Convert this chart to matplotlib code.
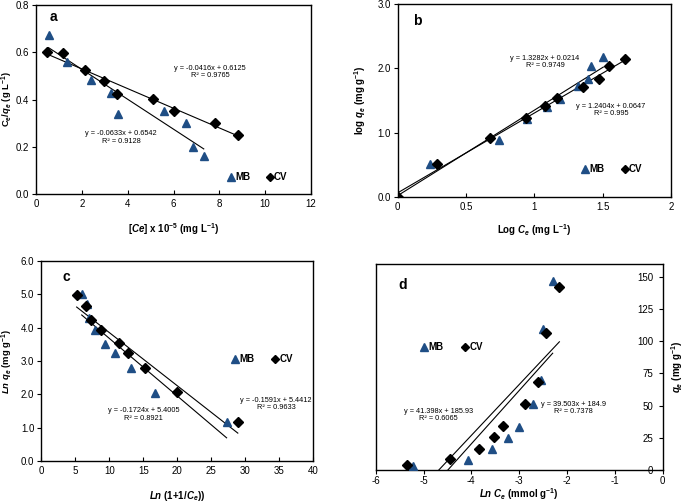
import numpy as np
import matplotlib.pyplot as plt

plt.rcParams['font.family'] = ['Liberation Sans', 'DejaVu Sans']
plt.rcParams['mathtext.fontset'] = 'custom'
plt.rcParams['mathtext.rm'] = 'Liberation Sans:bold'
plt.rcParams['mathtext.it'] = 'Liberation Sans:italic:bold'
plt.rcParams['mathtext.bf'] = 'Liberation Sans:bold'
plt.rcParams['axes.unicode_minus'] = False

# ---- panel a (Langmuir) ----
a_mb_x = [0.55, 1.35, 2.41, 3.29, 3.59, 5.57, 6.53, 6.84, 7.32]
a_mb_y = [0.675, 0.558, 0.482, 0.429, 0.339, 0.353, 0.302, 0.201, 0.159]
a_cv_x = [0.48, 1.16, 2.14, 2.95, 3.53, 5.09, 6.02, 7.81, 8.83]
a_cv_y = [0.599, 0.595, 0.525, 0.478, 0.425, 0.404, 0.353, 0.300, 0.249]
a_fit_mb = (-0.0633, 0.6542)
a_fit_cv = (-0.0416, 0.6125)

# ---- panel b (Freundlich) ----
b_mb_x = [0.0, 0.237, 0.744, 0.949, 1.095, 1.19, 1.32, 1.39, 1.415, 1.505]
b_mb_y = [0.0, 0.519, 0.893, 1.21, 1.40, 1.52, 1.73, 1.84, 2.03, 2.17]
b_cv_x = [0.0, 0.285, 0.678, 0.939, 1.08, 1.163, 1.359, 1.473, 1.544, 1.666]
b_cv_y = [0.0, 0.519, 0.919, 1.225, 1.41, 1.536, 1.71, 1.84, 2.03, 2.15]
b_fit_mb = (1.3282, 0.0214)
b_fit_cv = (1.2404, 0.0647)

# ---- panel c ----
c_mb_x = [5.94, 6.77, 7.06, 7.85, 9.41, 10.84, 13.15, 16.72, 27.25]
c_mb_y = [5.0, 4.70, 4.28, 3.93, 3.51, 3.23, 2.80, 2.03, 1.19]
c_cv_x = [5.2, 6.53, 7.35, 8.73, 11.47, 12.75, 15.2, 20.0, 28.9]
c_cv_y = [4.97, 4.65, 4.23, 3.93, 3.55, 3.23, 2.80, 2.08, 1.17]
c_fit_mb = (-0.1724, 5.4005)
c_fit_cv = (-0.1591, 5.4412)

# ---- panel d ----
d_mb_x = [-5.21, -4.06, -3.57, -3.24, -3.0, -2.72, -2.55, -2.51, -2.30]
d_mb_y = [3.1, 7.7, 16.2, 25.0, 33.5, 51.6, 70.1, 109.6, 147.0]
d_cv_x = [-5.35, -4.44, -3.85, -3.52, -3.33, -2.88, -2.61, -2.45, -2.16]
d_cv_y = [3.9, 8.5, 16.5, 25.3, 34.3, 51.6, 68.1, 106.2, 141.8]
d_fit_mb = (41.398, 185.93)
d_fit_cv = (39.503, 184.9)

blue = '#1f4e85'
W, H = 685, 504
FS = 7


def make_ax(l, r, t, b):
    return fig.add_axes([l / W, (H - b) / H, (r - l) / W, (b - t) / H])


def draw(ax, mbx, mby, cvx, cvy, fmb, fcv):
    for xs, (m, c) in ((mbx, fmb), (cvx, fcv)):
        xx = np.array([min(xs), max(xs)])
        ax.plot(xx, m * xx + c, color='black', lw=0.8, zorder=2)
    ax.plot(mbx, mby, ls='none', marker='^', color=blue, ms=6.3, zorder=3)
    ax.plot(cvx, cvy, ls='none', marker='D', color='black', ms=4.6, zorder=4)
    ax.tick_params(labelsize=FS, width=0.8, length=3)
    ax.tick_params(axis='y', pad=2)
    for s in ax.spines.values():
        s.set_linewidth(1.0)


def legend(ax, x1, x2, y):
    ax.plot([x1], [y], marker='^', color=blue, ms=6, transform=ax.transAxes, clip_on=False)
    ax.text(x1 + 0.015, y, 'MB', transform=ax.transAxes, fontsize=FS, fontweight='bold', va='center')
    ax.plot([x2], [y], marker='D', color='black', ms=4.2, transform=ax.transAxes, clip_on=False)
    ax.text(x2 + 0.015, y, 'CV', transform=ax.transAxes, fontsize=FS, fontweight='bold', va='center')


def eq(ax, x, y, m, c, r2):
    sign = '+' if c >= 0 else '-'
    ax.text(x, y, f'y = {m}x {sign} {abs(c)}\nR² = {r2}', transform=ax.transAxes,
            fontsize=5.3, ha='center', va='center', linespacing=1.1)


fig = plt.figure(figsize=(W / 100, H / 100), dpi=100)

# a
ax = make_ax(36, 311, 5, 194)
draw(ax, a_mb_x, a_mb_y, a_cv_x, a_cv_y, a_fit_mb, a_fit_cv)
ax.set_xlim(0, 12)
ax.set_ylim(0, 0.8)
ax.set_xticks(range(0, 13, 2))
ax.set_yticks([0, 0.2, 0.4, 0.6, 0.8])
ax.set_yticklabels(['0.0', '0.2', '0.4', '0.6', '0.8'])
ax.tick_params(axis='x', direction='in')
ax.set_ylabel(r'C$_\mathrm{e}$/$q_e$ (g L$^{-1}$)', fontsize=6.8, fontweight='bold')
ax.set_xlabel(r'[$Ce$] x 10$^{-5}$ (mg L$^{-1}$)', fontsize=FS, fontweight='bold')
ax.yaxis.set_label_coords(-0.077, 0.5)
ax.xaxis.set_label_coords(0.5, -0.143)
ax.text(0.05, 0.935, 'a', transform=ax.transAxes, fontsize=10, fontweight='bold', va='center')
eq(ax, 0.633, 0.645, -0.0416, 0.6125, 0.9765)
eq(ax, 0.31, 0.30, -0.0633, 0.6542, 0.9128)
legend(ax, 0.71, 0.85, 0.09)

# b
ax = make_ax(397.7, 671, 4, 197)
draw(ax, b_mb_x, b_mb_y, b_cv_x, b_cv_y, b_fit_mb, b_fit_cv)
ax.set_xlim(0, 2)
ax.set_ylim(0, 3)
ax.set_xticks([0, 0.5, 1, 1.5, 2])
ax.set_xticklabels(['0', '0.5', '1', '1.5', '2'])
ax.set_yticks([0, 1, 2, 3])
ax.set_yticklabels(['0.0', '1.0', '2.0', '3.0'])
ax.tick_params(axis='x', direction='in')
ax.set_ylabel(r'log $q_e$ (mg g$^{-1}$)', fontsize=FS, fontweight='bold')
ax.set_xlabel(r'Log $C_e$ (mg L$^{-1}$)', fontsize=FS, fontweight='bold')
ax.yaxis.set_label_coords(-0.109, 0.5)
ax.xaxis.set_label_coords(0.5, -0.13)
ax.text(0.056, 0.91, 'b', transform=ax.transAxes, fontsize=10, fontweight='bold', va='center')
eq(ax, 0.539, 0.70, 1.3282, 0.0214, 0.9749)
eq(ax, 0.78, 0.45, 1.2404, 0.0647, 0.995)
legend(ax, 0.687, 0.83, 0.145)

# c
ax = make_ax(41.3, 313.3, 260.7, 461.3)
draw(ax, c_mb_x, c_mb_y, c_cv_x, c_cv_y, c_fit_mb, c_fit_cv)
ax.set_xlim(0, 40)
ax.set_ylim(0, 6)
ax.set_xticks(range(0, 41, 5))
ax.set_yticks(range(0, 7))
ax.set_yticklabels([f'{v:.1f}' for v in range(0, 7)])
ax.tick_params(axis='x', direction='in')
ax.set_ylabel(r'$Ln$ $q_e$ (mg g$^{-1}$)', fontsize=6.8, fontweight='bold')
ax.set_xlabel(r'$Ln$ (1+1/$C_e$))', fontsize=FS, fontweight='bold')
ax.yaxis.set_label_coords(-0.097, 0.5)
ax.xaxis.set_label_coords(0.5, -0.138)
ax.text(0.077, 0.92, 'c', transform=ax.transAxes, fontsize=10, fontweight='bold', va='center')
eq(ax, 0.863, 0.286, -0.1591, 5.4412, 0.9633)
eq(ax, 0.375, 0.234, -0.1724, 5.4005, 0.8921)
legend(ax, 0.713, 0.86, 0.51)

# d
ax = make_ax(375.7, 662.7, 264, 470)
draw(ax, d_mb_x, d_mb_y, d_cv_x, d_cv_y, d_fit_mb, d_fit_cv)
ax.set_xlim(-6, 0)
ax.set_ylim(0, 160)
ax.set_xticks(range(-6, 1))
ax.set_yticks(range(0, 151, 25))
ax.tick_params(axis='x', pad=1.5)
ax.tick_params(axis='y', left=False, labelleft=False, right=True, labelright=True,
               direction='in', pad=-7)
for t in ax.get_yticklabels():
    t.set_horizontalalignment('right')
ax.yaxis.set_label_position('right')
ax.set_ylabel(r'$q_e$ (mg g$^{-1}$)', fontsize=FS, fontweight='bold')
ax.set_xlabel(r'$Ln$ $C_e$ (mmol g$^{-1}$)', fontsize=FS, fontweight='bold')
ax.yaxis.set_label_coords(1.024, 0.5)
ax.xaxis.set_label_coords(0.5, -0.078)
ax.text(0.08, 0.90, 'd', transform=ax.transAxes, fontsize=10, fontweight='bold', va='center')
eq(ax, 0.218, 0.267, 41.398, 185.93, 0.6065)
eq(ax, 0.688, 0.30, 39.503, 184.9, 0.7378)
legend(ax, 0.168, 0.311, 0.595)

fig.savefig('out.png', dpi=100)
